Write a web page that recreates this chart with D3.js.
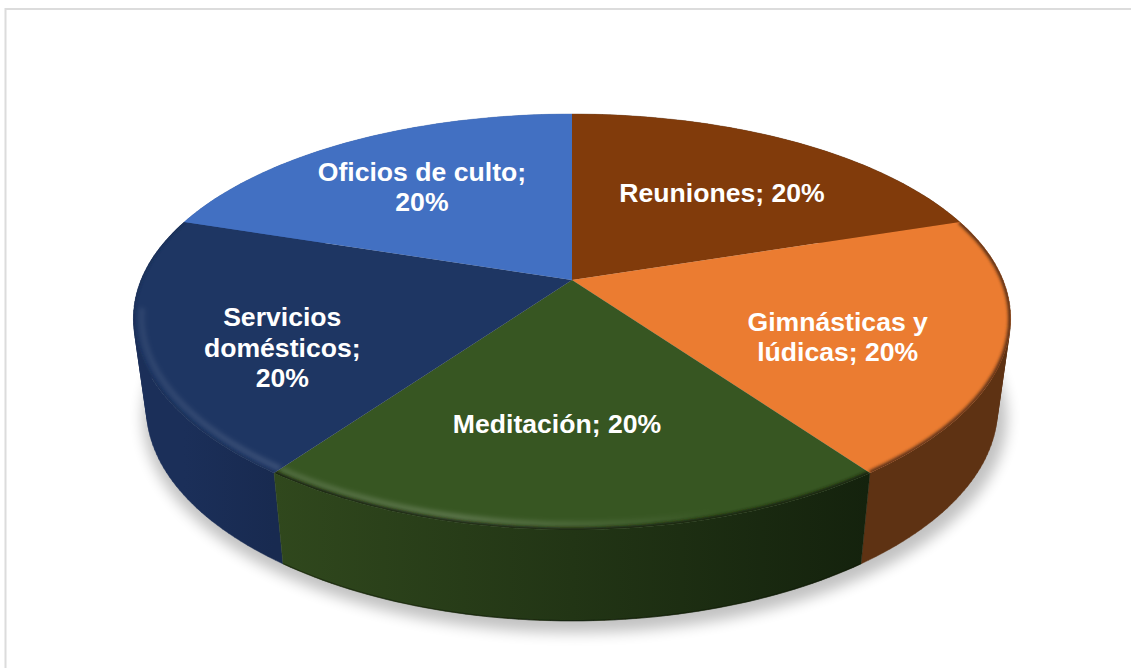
<!DOCTYPE html>
<html><head><meta charset="utf-8">
<script src="https://cdnjs.cloudflare.com/ajax/libs/d3/7.8.5/d3.min.js"></script>
<style>html,body{margin:0;padding:0;background:#fff;overflow:hidden}svg{display:block}</style>
</head><body><svg id="c" width="1131" height="668"></svg>
<script>
const categories = ["Reuniones","Gimnásticas y lúdicas","Meditación","Servicios domésticos","Oficios de culto"];
const values = [20,20,20,20,20];
const labelLines = [["Reuniones; 20%"],["Gimnásticas y","lúdicas; 20%"],["Meditación; 20%"],["Servicios","domésticos;","20%"],["Oficios de culto;","20%"]];
const topColors = ["#813b0b","#eb7c31","#375622","#1e3663","#4270c2"];
const sideStart = ["#5e3213","#5e3213","#30481d","#1b2f59","#3a62a8"];
const sideEnd   = ["#5e3213","#5e3213","#14220d","#182a50","#3a62a8"];

// layout of the tilted disc
const W=1131,H=668,cx=572,cy=280,R=431,depth=91,bottomScale=.97,A=199.5,k=-.2019,kx=-.185;
const labelRadius=[.65,.65,.63,.65,.65];
const labelNudge=[[0,8],[-11,15],[-15,0],[-13,26],[0,2]];

const svg=d3.select("#c");
const defs=svg.append("defs");
const blur=(id,s)=>defs.append("filter").attr("id",id).attr("x","-10%").attr("y","-10%").attr("width","120%").attr("height","120%")
  .append("feGaussianBlur").attr("stdDeviation",s);
blur("b1",1.5);blur("b2",2);blur("b05",.7);blur("b6",7);

// projective mapping of the unit disc to the screen
function project(a,r=1,h=0){
  const x=r*Math.sin(a),y=-r*Math.cos(a);
  return [cx+R*x/(1+kx*y)*(1-(1-bottomScale)*h), cy+A*y/(1+k*y)+depth*h];
}
const line=d3.line();
const samples=(a0,a1,n=60)=>d3.range(n+1).map(i=>a0+(a1-a0)*i/n);
const arcs=d3.pie().sort(null).value(d=>d)(values);
const full=samples(0,2*Math.PI,240);

// frame
svg.append("rect").attr("x",5.5).attr("y",9).attr("width",W+20).attr("height",H+20)
  .attr("fill","#fff").attr("stroke","#dcdcdc").attr("stroke-width",2);

// shadow
svg.append("path").attr("d",line(full.map(a=>{const p=project(a,1.015,1);return [p[0]+3,p[1]+7];}))+"Z")
  .attr("fill","#000").attr("opacity",.24).attr("filter","url(#b6)");

// side walls
arcs.forEach((s,i)=>{
  const g=defs.append("linearGradient").attr("id","side"+i).attr("gradientUnits","userSpaceOnUse")
    .attr("x1",project(s.endAngle)[0]).attr("x2",project(s.startAngle)[0]).attr("y1",0).attr("y2",0);
  g.append("stop").attr("offset",0).attr("stop-color",sideStart[i]);
  g.append("stop").attr("offset",1).attr("stop-color",sideEnd[i]);
});
[4,0,1,3,2].forEach(i=>{
  const s=arcs[i],pts=samples(s.startAngle,s.endAngle);
  const top=pts.map(a=>project(a,1,0)),bot=pts.map(a=>project(a,1,1));
  let d="";
  for(let j=0;j<pts.length-1;j++){
    const q=[top[j],top[j+1],bot[j+1],bot[j]];
    if(d3.polygonArea(q)<0) q.reverse();
    d+=line(q)+"Z";
  }
  svg.append("path").attr("d",d).attr("fill","url(#side"+i+")").attr("stroke","url(#side"+i+")").attr("stroke-width",.4);
});
// soft seam at the foot of the front wall
{
  const s=arcs[2];
  svg.append("path").attr("d",line(samples(s.startAngle,s.endAngle).map(a=>project(a,.999,1))))
    .attr("fill","none").attr("stroke","#0c1507").attr("stroke-width",1.2).attr("opacity",.5).attr("filter","url(#b05)");
}

// highlight gradient along the rim
const hg=defs.append("linearGradient").attr("id","hl").attr("gradientUnits","userSpaceOnUse")
  .attr("x1",135).attr("x2",720).attr("y1",0).attr("y2",0);
hg.append("stop").attr("offset",0).attr("stop-color","#fff").attr("stop-opacity",.07);
hg.append("stop").attr("offset",.55).attr("stop-color","#fff").attr("stop-opacity",.18);
hg.append("stop").attr("offset",1).attr("stop-color","#fff").attr("stop-opacity",0);
const hlFrom=150*Math.PI/180, hlTo=262*Math.PI/180;

// top faces
arcs.forEach((s,i)=>{
  const pts=samples(s.startAngle,s.endAngle);
  const outline=[[cx,cy],...pts.map(a=>project(a))];
  const d=line(outline)+"Z";
  defs.append("clipPath").attr("id","clip"+i).append("path").attr("d",d);
  const g=svg.append("g").attr("class","slice").attr("data-category",categories[i]);
  g.append("path").attr("d",d).attr("fill",topColors[i]);
  const inner=g.append("g").attr("clip-path","url(#clip"+i+")");
  if(i!==4 && i!==0){
    inner.append("path").attr("d",line(pts.map(a=>project(a,1,0)))).attr("fill","none")
      .attr("stroke",sideEnd[i]).attr("stroke-width",i===3?2:5).attr("filter","url(#b1)");
  }
  const a0=Math.max(s.startAngle,hlFrom),a1=Math.min(s.endAngle,hlTo);
  if(a1>a0){
    inner.append("path").attr("d",line(samples(a0,a1).map(a=>project(a,.982,0)))).attr("fill","none")
      .attr("stroke","url(#hl)").attr("stroke-width",6).attr("filter","url(#b2)");
  }
});

// labels
const lh=30.5;
arcs.forEach((s,i)=>{
  const mid=(s.startAngle+s.endAngle)/2,p=project(mid,labelRadius[i]);
  const x=p[0]+labelNudge[i][0],y=p[1]+labelNudge[i][1];
  const t=svg.append("text").attr("text-anchor","middle").attr("fill","#fff")
    .attr("font-family","'Liberation Sans',Arial,sans-serif").attr("font-weight",700).attr("font-size",26.6);
  labelLines[i].forEach((l,j)=>{
    t.append("tspan").attr("x",x).attr("y",y-(labelLines[i].length-1)/2*lh+j*lh+9).text(l);
  });
});
</script></body></html>
